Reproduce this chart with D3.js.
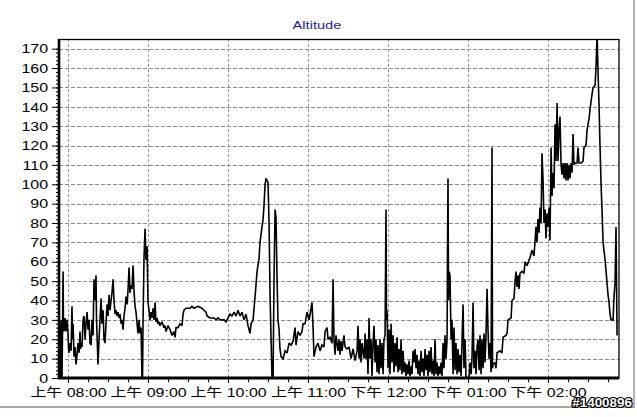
<!DOCTYPE html>
<html>
<head>
<meta charset="utf-8">
<script src="https://cdn.jsdelivr.net/npm/d3@7"></script>
<style>
  html, body { margin: 0; padding: 0; background: #ffffff; }
  svg { display: block; }
</style>
</head>
<body>
<svg id="chart" width="637" height="417"></svg>
<script>
// ---- data (time = minutes since midnight, altitude in m) ----
const times = [
474.0,474.4,474.8,475.1,475.5,475.9,476.3,476.6,477.0,477.8,478.5,479.3,480.0,480.4,480.8,481.5,482.3,483.0,483.4,483.8,
484.5,485.3,486.0,486.8,487.5,488.3,489.0,489.4,489.8,490.5,491.3,492.0,492.8,493.5,494.3,495.0,495.8,496.5,497.3,498.0,
498.8,499.5,500.3,501.0,501.4,501.8,502.5,503.3,504.0,504.8,505.5,506.3,507.0,507.8,508.5,509.3,510.0,510.8,511.5,512.3,
513.0,513.8,514.5,515.3,516.0,516.8,517.5,518.3,519.0,519.8,520.5,521.3,522.0,522.8,523.5,524.3,525.0,525.8,526.5,527.3,
528.0,528.8,529.5,530.3,531.0,531.8,532.5,533.3,534.0,534.8,535.5,535.9,536.3,537.0,537.8,538.5,539.3,540.0,540.8,541.5,
542.3,543.0,543.8,544.5,545.3,546.0,546.8,547.5,548.3,549.0,550.5,552.0,552.8,553.5,555.0,556.5,558.0,559.5,560.3,561.0,
562.5,564.0,565.5,566.3,567.0,568.5,571.5,573.0,574.5,577.5,580.5,582.0,583.5,584.3,586.5,589.5,591.0,592.5,594.0,597.0,
598.5,600.0,601.5,603.0,604.5,606.0,607.5,609.0,610.5,612.0,613.5,615.0,616.5,617.3,618.8,620.3,621.8,623.3,624.0,625.5,
626.3,627.0,627.8,628.5,630.0,630.8,631.5,632.3,633.0,633.8,634.5,635.3,636.0,636.8,637.5,638.3,639.0,639.8,641.3,642.8,
644.3,645.8,647.3,648.8,650.3,651.0,652.5,654.0,655.5,656.3,657.8,659.3,660.8,662.3,663.0,663.8,664.5,666.0,667.5,669.0,
670.5,672.0,672.8,674.3,675.0,676.5,678.0,678.8,679.5,680.3,681.0,682.5,683.3,684.0,684.8,685.5,687.0,687.8,689.3,690.8,
692.3,693.8,695.3,696.8,697.5,698.3,699.0,699.8,700.5,702.0,702.8,703.5,704.3,705.0,705.8,706.5,707.3,708.0,708.8,709.5,
710.3,711.0,711.8,712.5,713.3,714.0,714.8,715.5,716.3,717.0,717.8,718.5,718.9,719.3,720.0,720.8,721.5,722.3,723.0,723.8,
724.5,725.3,726.0,726.8,727.5,728.3,729.0,729.8,730.5,731.3,732.0,732.8,733.5,734.3,735.0,735.8,736.5,737.3,738.0,738.8,
739.5,740.3,741.0,741.8,742.5,743.3,744.0,744.8,745.5,746.3,747.0,747.8,748.5,749.3,750.0,750.8,751.5,752.3,753.0,753.8,
754.5,755.3,756.0,756.8,757.5,758.3,759.0,759.8,760.5,761.3,762.0,762.8,763.5,764.3,764.6,765.0,765.4,765.8,766.5,767.3,
768.0,768.8,769.5,770.3,771.0,771.8,772.5,773.3,774.0,774.8,775.5,776.3,777.0,777.8,778.5,779.3,780.8,781.5,782.3,783.0,
783.8,784.5,785.3,786.0,786.8,787.5,788.3,789.0,789.8,790.5,791.3,792.0,792.8,793.5,794.3,795.0,795.8,796.5,797.3,798.0,
798.4,798.8,800.3,801.0,801.8,804.0,805.5,806.3,808.5,809.3,810.0,812.3,813.0,814.5,815.3,816.0,816.8,817.5,818.3,819.0,
820.5,822.0,822.8,824.3,825.8,826.5,828.0,829.5,830.3,831.0,831.8,832.5,833.3,834.0,834.8,835.5,836.3,837.0,837.8,838.5,
839.3,840.0,840.8,841.5,842.3,843.0,843.8,844.5,845.3,846.0,846.8,847.5,848.3,849.0,849.8,850.5,851.3,852.0,852.8,853.5,
854.3,855.0,855.8,856.5,857.3,858.0,858.8,859.5,860.3,861.8,862.5,863.3,864.8,866.3,867.0,868.5,869.3,870.8,872.3,873.8,
875.3,876.0,876.8,877.5,878.3,879.0,879.8,880.5,881.3,882.8,884.3,885.0,885.8,886.5,887.3,888.8,889.5,890.3,891.0,891.8
];
const altitude = [
0,24,30,0,0,24,55,28,24,31,24,30,23,15,13,18,14,37,20,28,
11,16,7,12,18,13,24,15,18,16,30,32,20,28,34,25,30,18,17,30,
22,51,40,53,30,22,7,20,30,41,28,35,20,18,28,38,32,43,35,40,
44,51,40,33,35,32,34,31,33,28,30,25,32,36,42,38,45,57,44,48,
46,58,45,37,34,28,23,30,23,26,0,0,30,62,77,61,68,39,35,30,
34,31,36,30,39,29,31,28,29,27,29,26,27,24,27,25,22,24,21,26,
26,28,27,33,35,36,36,37,36,37,36,35,34,32,31,31,30,31,30,30,
29,31,33,32,34,32,35,32,34,30,33,27,23,28,30,42,55,62,70,78,
82,89,100,103,101,80,44,20,0,0,50,87,83,51,30,25,15,11,10,14,
13,18,17,19,26,17,24,22,24,28,28,34,30,36,39,26,11,16,18,14,
17,16,24,26,20,21,18,51,20,12,22,14,20,12,19,14,22,16,15,16,
10,15,9,14,27,10,20,8,18,10,23,10,20,2,31,10,20,1,18,27,
8,20,3,17,2,20,5,18,2,20,22,87,30,35,5,25,2,28,8,22,
3,18,6,21,3,15,4,20,2,14,3,8,1,7,2,9,1,6,2,14,
8,15,5,12,2,9,1,14,3,10,1,15,4,12,1,14,3,16,2,9,
1,20,2,8,1,6,2,8,1,18,5,22,10,20,62,103,40,55,53,20,
30,2,26,4,18,2,15,3,12,1,18,38,5,20,1,0,0,8,2,10,
39,5,14,2,16,20,4,22,2,20,5,23,8,22,46,25,10,18,3,119,
5,7,8,5,13,14,13,21,22,23,30,31,40,41,50,55,47,53,46,54,
55,54,60,58,61,62,66,63,71,78,70,82,75,88,80,116,102,80,87,72,
85,78,88,71,119,94,106,98,131,112,142,112,128,135,110,105,111,103,111,102,
111,102,110,103,111,106,126,110,111,111,119,111,111,112,119,120,128,134,143,150,
151,160,177,159,140,120,100,87,70,61,49,43,39,33,30,30,42,49,78,22
];
const yTickValues = [0,10,20,30,40,50,60,70,80,90,100,110,120,130,140,150,160,170];
const xTickTimes = [480, 540, 600, 660, 720, 780, 840];
const xTickLabels = ["上午 08:00","上午 09:00","上午 10:00","上午 11:00","下午 12:00","下午 01:00","下午 02:00"];
const chartTitle = "Altitude";
const watermark = "#1400896";

// ---- layout ----
const W = 637, H = 417;
const plot = { left: 59, right: 619, top: 39, bottom: 378 };
const SX = 1.33; // horizontal stretch of the original lettering

const svg = d3.select("#chart");
svg.append("rect").attr("x",0).attr("y",0).attr("width",W).attr("height",H).attr("fill","#ffffff");

const x = d3.scaleLinear().domain([473.25, 893.25]).range([plot.left, plot.right]);
const y = d3.scaleLinear().domain([0, 175]).range([plot.bottom, plot.top]);

// title
svg.append("text")
  .attr("transform", `translate(317,29) scale(${SX},1)`)
  .attr("text-anchor","middle")
  .attr("font-family","'Liberation Sans', Arial, sans-serif")
  .attr("font-size", 11)
  .attr("fill","#1c1ca6")
  .text(chartTitle);

// gridlines
const grid = svg.append("g");
grid.selectAll("line.h").data(yTickValues.filter(v => v > 0)).join("line")
  .attr("x1", plot.left).attr("x2", plot.right)
  .attr("y1", d => Math.round(y(d)) + 0.5).attr("y2", d => Math.round(y(d)) + 0.5)
  .attr("stroke","#8a8a8a").attr("stroke-width",1).attr("stroke-dasharray","4,2");
grid.selectAll("line.v").data(xTickTimes).join("line")
  .attr("x1", d => Math.round(x(d)) + 0.5).attr("x2", d => Math.round(x(d)) + 0.5)
  .attr("y1", plot.top).attr("y2", plot.bottom)
  .attr("stroke","#9a9a9a").attr("stroke-width",1).attr("stroke-dasharray","3,2");

// data line
svg.append("clipPath").attr("id","clip").append("rect")
  .attr("x", plot.left).attr("y", plot.top)
  .attr("width", plot.right - plot.left).attr("height", plot.bottom - plot.top);
const pts = times.map((t, i) => [t, altitude[i]]);
svg.append("path")
  .attr("clip-path","url(#clip)")
  .attr("d", d3.line().x(d => x(d[0])).y(d => y(d[1]))(pts))
  .attr("fill","none").attr("stroke","#000000").attr("stroke-width",1.6)
  .attr("stroke-linejoin","miter").attr("stroke-miterlimit",2);

// plot frame
svg.append("rect")
  .attr("x", plot.left).attr("y", plot.top + 0.5)
  .attr("width", plot.right - plot.left).attr("height", plot.bottom - plot.top - 0.5)
  .attr("fill","none").attr("stroke","#000").attr("stroke-width",1.3);

// y axis
const fontFam = "'Liberation Sans', Arial, 'Noto Sans CJK TC', sans-serif";
const yMinor = svg.append("g").attr("transform",`translate(${plot.left},0)`)
  .call(d3.axisLeft(y).tickValues(d3.range(0, 171, 2)).tickSize(3).tickFormat(""));
yMinor.select(".domain").remove();
const yAxis = svg.append("g").attr("transform",`translate(${plot.left},0)`)
  .call(d3.axisLeft(y).tickValues(yTickValues).tickSize(7).tickPadding(4));
yAxis.select(".domain").attr("stroke-width",2.6).attr("d",`M0,${plot.top}V${plot.bottom}`);
yAxis.selectAll("text")
  .attr("font-family", fontFam).attr("font-size",12).attr("fill","#000")
  .attr("x", -11 / SX).attr("dy","0.35em")
  .attr("transform", `scale(${SX},1)`);
[yMinor, yAxis].forEach(g => g.selectAll("line").attr("stroke","#000"));

// x axis
const xMinor = svg.append("g").attr("transform",`translate(0,${plot.bottom})`)
  .call(d3.axisBottom(x).tickValues(d3.range(480, 893, 15)).tickSize(4).tickFormat(""));
xMinor.select(".domain").remove();
const xAxis = svg.append("g").attr("transform",`translate(0,${plot.bottom})`)
  .call(d3.axisBottom(x).tickValues(xTickTimes).tickSize(5).tickPadding(5)
    .tickFormat((d, i) => xTickLabels[i]));
xAxis.select(".domain").attr("stroke-width",3).attr("d",`M${plot.left - 1},0H${plot.right}`);
xAxis.selectAll("text")
  .attr("font-family", fontFam).attr("font-size",12).attr("fill","#000")
  .attr("transform", `scale(${SX},1)`);
[xMinor, xAxis].forEach(g => g.selectAll("line").attr("stroke","#000"));

// outer window frame
svg.append("line").attr("x1",0).attr("x2",634).attr("y1",407).attr("y2",407)
  .attr("stroke","#a6a69a").attr("stroke-width",2);
svg.append("line").attr("x1",634).attr("x2",634).attr("y1",0).attr("y2",408)
  .attr("stroke","#b4b4aa").attr("stroke-width",2);

// watermark
svg.append("text")
  .attr("transform", `translate(632,407) scale(1.12,1)`)
  .attr("text-anchor","end")
  .attr("font-family","'Liberation Sans', Arial, sans-serif")
  .attr("font-weight","bold").attr("font-size",12)
  .attr("fill","#ffffff").attr("stroke","#000000").attr("stroke-width",2.2)
  .attr("paint-order","stroke").attr("stroke-linejoin","round")
  .text(watermark);
</script>
</body>
</html>
